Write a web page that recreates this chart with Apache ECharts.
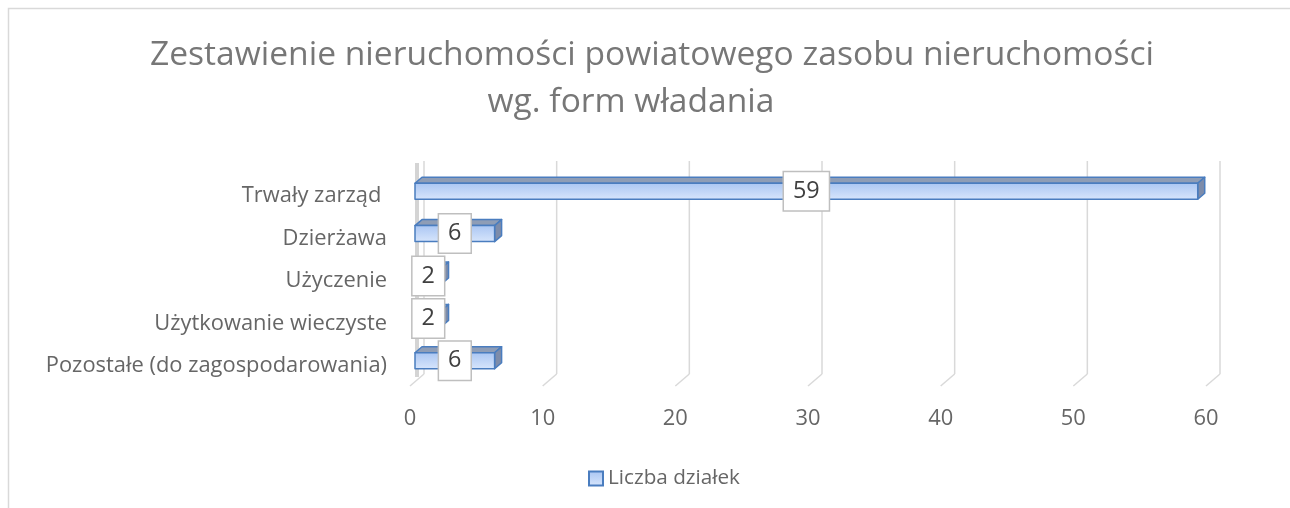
<!DOCTYPE html>
<html>
<head>
<meta charset="utf-8">
<script src="https://cdn.jsdelivr.net/npm/echarts@6/dist/echarts.min.js"></script>
<style>
  html, body { margin: 0; padding: 0; background: #fff; }
  #chart { width: 1290px; height: 508px; }
</style>
</head>
<body>
<div id="chart"></div>
<script>
const titleLines = ['Zestawienie nieruchomości powiatowego zasobu nieruchomości', 'wg. form władania']
const categories = ['Trwały zarząd ', 'Dzierżawa', 'Użyczenie', 'Użytkowanie wieczyste', 'Pozostałe (do zagospodarowania)']
const counts = [59, 6, 2, 2, 6]
const xTicks = [0, 10, 20, 30, 40, 50, 60]
const seriesName = 'Liczba działek'

const FAMILY = '"Open Sans", sans-serif'
const ctx = document.createElement('canvas').getContext('2d')
// font size that makes a text as wide as in the picture
function fit(text, width) {
  ctx.font = '100px ' + FAMILY
  return Math.round(1000 * width / ctx.measureText(text).width) / 10
}
const titleSize = fit(titleLines[0], 1005)
const labelSize = fit(categories[4], 341)
const legendSize = fit(seriesName, 132)
const valueSize = labelSize + 1.5

const chart = echarts.init(document.getElementById('chart'))

const frontFill = new echarts.graphic.LinearGradient(0, 0, 0, 1, [
  { offset: 0, color: '#a9c5f2' },
  { offset: 1, color: '#d8e6fc' },
])

function renderGrid(params, api) {
  const cs = params.coordSys
  const fx = api.coord([api.value(0), 0])[0]
  const bx = fx + 14
  const top = cs.y - 14
  const bottom = cs.y + cs.height - 13
  const line = { stroke: '#d9d9d9', lineWidth: 1.5 }
  const children = [
    { type: 'line', shape: { x1: bx, y1: top, x2: bx, y2: bottom }, style: line },
    { type: 'line', shape: { x1: bx, y1: bottom, x2: fx, y2: bottom + 12 }, style: line },
  ]
  if (api.value(0) === 0) {
    children.push({ type: 'rect', shape: { x: fx + 5, y: top + 2, width: 4, height: cs.height + 2 }, style: { fill: '#d4d4d4' } })
  }
  return { type: 'group', children }
}

function renderBar(params, api) {
  const v = api.value(0)
  const idx = api.value(1)
  const p0 = api.coord([0, idx])
  const p1 = api.coord([v, idx])
  const x0 = p0[0] + 5
  const x1 = p1[0] + 5
  const cy = p0[1] - 5
  const yt = cy - 8
  const yb = cy + 8
  const dx = 7
  const dy = -6
  const edge = { stroke: '#4a7dbf', lineWidth: 1.5, lineJoin: 'round' }
  return {
    type: 'group',
    children: [
      { type: 'polygon', shape: { points: [[x0, yt], [x0 + dx, yt + dy], [x1 + dx, yt + dy], [x1, yt]] }, style: Object.assign({ fill: '#8e9db6' }, edge) },
      { type: 'polygon', shape: { points: [[x1, yt], [x1 + dx, yt + dy], [x1 + dx, yb + dy], [x1, yb]] }, style: Object.assign({ fill: '#7d8caa' }, edge) },
      { type: 'rect', shape: { x: x0, y: yt, width: x1 - x0, height: yb - yt }, style: Object.assign({ fill: frontFill }, edge) },
      {
        type: 'text',
        z2: 10,
        style: {
          text: String(v),
          x: (x0 + x1) / 2,
          y: cy,
          align: 'center',
          verticalAlign: 'middle',
          font: valueSize + 'px ' + FAMILY,
          fill: '#404040',
          backgroundColor: '#fff',
          borderColor: '#bfbfbf',
          borderWidth: 1.5,
          padding: [8, 9, 7, 9],
        },
      },
    ],
  }
}

const option = {
  animation: false,
  textStyle: { fontFamily: FAMILY },
  graphic: [
    { type: 'rect', shape: { x: 8.5, y: 8.5, width: 1400, height: 600 }, style: { fill: 'none', stroke: '#d9d9d9', lineWidth: 1.5 }, z: -10 },
    { type: 'text', style: { text: titleLines[0], x: 652, y: 55, align: 'center', verticalAlign: 'middle', font: titleSize + 'px ' + FAMILY, fill: '#777' } },
    { type: 'text', style: { text: titleLines[1], x: 631, y: 102, align: 'center', verticalAlign: 'middle', font: titleSize + 'px ' + FAMILY, fill: '#777' } },
  ],
  legend: {
    data: [seriesName],
    left: 583,
    top: 463,
    itemWidth: 14,
    itemHeight: 14,
    itemGap: 5,
    icon: 'rect',
    textStyle: { fontSize: legendSize, color: '#666' },
  },
  grid: { left: 410, right: 84, top: 175, bottom: 121, containLabel: false },
  xAxis: {
    type: 'value',
    min: 0,
    max: 60,
    interval: 10,
    axisLine: { show: false },
    axisTick: { show: false },
    splitLine: { show: false },
    axisLabel: { margin: 21, fontSize: labelSize, color: '#666' },
  },
  yAxis: {
    type: 'category',
    data: categories,
    inverse: true,
    axisLine: { show: false },
    axisTick: { show: false },
    axisLabel: { margin: 23, fontSize: labelSize, color: '#666' },
  },
  series: [
    {
      type: 'custom',
      name: 'grid',
      silent: true,
      z: 1,
      renderItem: renderGrid,
      encode: { x: 0, y: 1 },
      data: xTicks.map(t => [t, 0]),
    },
    {
      type: 'custom',
      name: seriesName,
      z: 2,
      renderItem: renderBar,
      encode: { x: 0, y: 1 },
      itemStyle: { color: frontFill, borderColor: '#4a7dbf', borderWidth: 1.5 },
      data: counts.map((c, i) => [c, i]),
    },
  ],
}

chart.setOption(option)
</script>
</body>
</html>
